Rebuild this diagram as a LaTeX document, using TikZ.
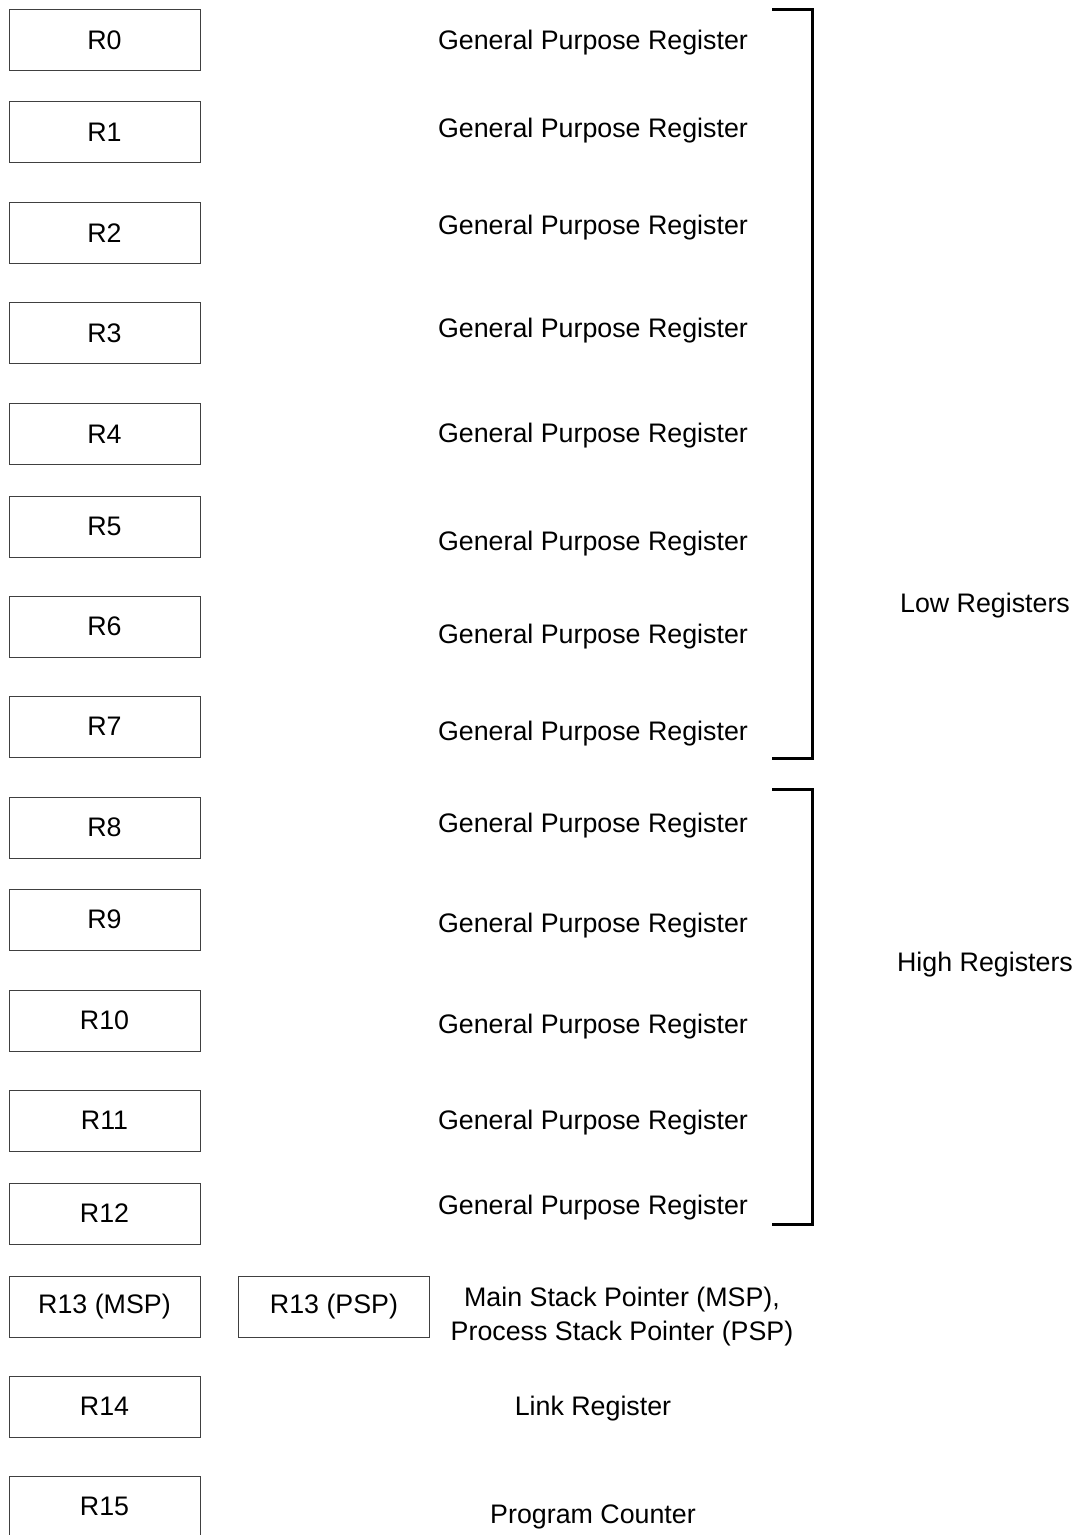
\documentclass[tikz,border=0pt]{standalone}
\usepackage{fontspec}
\setmainfont{Liberation Sans}
\begin{document}
\begin{tikzpicture}[x=0.5pt,y=-0.5pt,
  every node/.style={font=\fontsize{13.4}{16.5}\selectfont},
  reg/.style={draw=black!75, line width=0.5pt, minimum width=95.5pt, minimum height=30.5pt, inner sep=0pt, anchor=center},
  lbl/.style={inner sep=0pt, anchor=center, text=black},
  desc/.style={lbl, yshift=-1.5pt},
  brk/.style={line width=1.5pt, line cap=butt}]
\useasboundingbox (0,0) rectangle (1081,1535);
\clip (0,0) rectangle (1081,1535);
% register boxes
\foreach \n/\y in {0/40.5,1/132.5,2/233.5,3/333.5,4/434,5/526.5,6/626.5,7/726.5,8/827.5,9/919.5,10/1020.5,11/1120.5,12/1213.5,14/1406.5}{
  \node[reg] (r\n) at (104.5,\y) {R\n};
}
\node[reg] (r13) at (104.5,1306.5) {R13 (MSP)};
\node[reg] (r13p) at (334,1306.5) {R13 (PSP)};
\node[reg, minimum height=40pt, anchor=north] (r15) at (104.5,1476) {};
\node[lbl] (r15t) at (104.5,1506) {R15};
% descriptions
\foreach \n/\y in {0/40,1/128,2/225,3/328,4/433,5/541,6/634,7/731,8/823,9/923,10/1024,11/1120,12/1205}{
  \node[desc] (d\n) at (593,\y) {General Purpose Register};
}
\node[desc, align=center] (d13) at (622,1313.5) {Main Stack Pointer (MSP),\\[0.1pt]Process Stack Pointer (PSP)};
\node[desc] (d14) at (593,1406) {Link Register};
\node[desc] (d15) at (593,1514) {Program Counter};
% brackets
\coordinate (lowA) at (772,10);
\coordinate (lowB) at (772,758);
\coordinate (highA) at (772,789);
\coordinate (highB) at (772,1224);
\draw[brk] (lowA) -- ++(40,0) |- (lowB);
\draw[brk] (highA) -- ++(40,0) |- (highB);
\node[desc] (low) at (985,603) {Low Registers};
\node[desc] (high) at (985,962) {High Registers};
\end{tikzpicture}
\end{document}
